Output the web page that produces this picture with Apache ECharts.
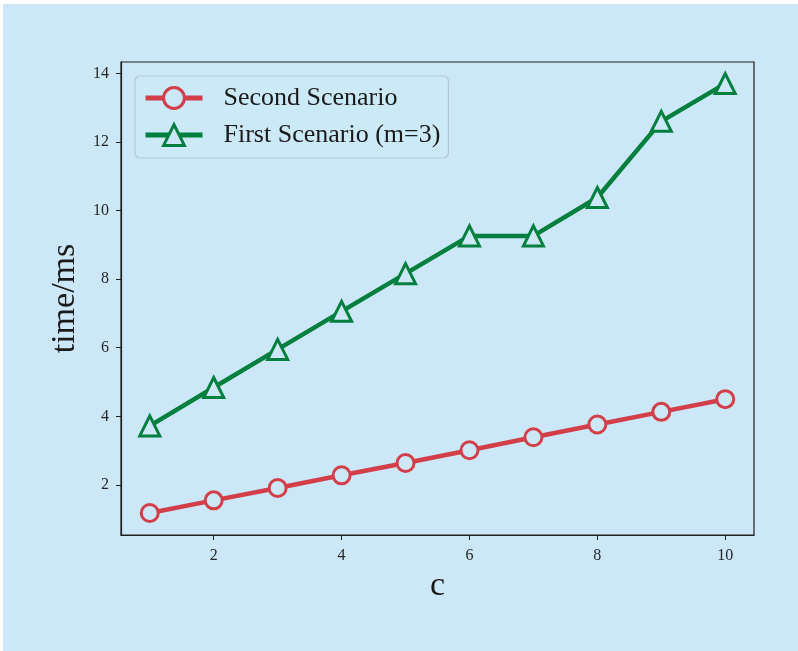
<!DOCTYPE html>
<html>
<head>
<meta charset="utf-8">
<script src="https://cdn.jsdelivr.net/npm/echarts@6/dist/echarts.min.js"></script>
<style>
html,body{margin:0;padding:0;background:#ffffff;}
#bg{position:absolute;left:3px;top:4px;width:795px;height:647px;background:#cce8f8;}
#c{position:absolute;left:0;top:0;width:798px;height:651px;}
</style>
</head>
<body>
<div id="bg"></div>
<div id="c"></div>
<script>
const cValues = [1, 2, 3, 4, 5, 6, 7, 8, 9, 10];
const secondScenario = [1.18, 1.55, 1.91, 2.28, 2.64, 3.01, 3.39, 3.76, 4.13, 4.50];
const firstScenario = [3.72, 4.84, 5.95, 7.06, 8.16, 9.26, 9.26, 10.38, 12.60, 13.70];
const xTicks = [2, 4, 6, 8, 10];
const yTicks = [2, 4, 6, 8, 10, 12, 14];
const seriesNames = ['Second Scenario', 'First Scenario (m=3)'];

const BG = '#cce8f8';
const RED = '#d33f49';
const GREEN = '#007f3f';
const FONT = '"Liberation Serif", "Times New Roman", serif';

const chart = echarts.init(document.getElementById('c'), null, {renderer: 'canvas'});
chart.setOption({
  animation: false,
  backgroundColor: 'transparent',
  textStyle: {fontFamily: FONT},
  grid: {
    left: 121, top: 62, right: 44, bottom: 116,
    show: true, borderColor: '#1f1f1f', borderWidth: 1.2, backgroundColor: 'transparent'
  },
  legend: {
    orient: 'vertical',
    left: 135, top: 76,
    padding: [9, 8, 10, 8],
    itemWidth: 57, itemHeight: 26, itemGap: 11,
    backgroundColor: 'rgba(204,232,248,0.8)',
    borderColor: '#b3c6d2', borderWidth: 1.2, borderRadius: 5,
    lineStyle: {width: 5},
    itemStyle: {borderWidth: 3},
    textStyle: {fontFamily: FONT, fontSize: 26, color: '#1a1a1a', lineHeight: 26, padding: [0, 0, 0, 16]},
    data: seriesNames
  },
  xAxis: {
    type: 'value', min: 0.55, max: 10.45,
    name: 'c', nameLocation: 'middle', nameGap: 29,
    nameTextStyle: {fontFamily: FONT, fontSize: 34, color: '#1a1a1a'},
    axisLine: {show: true, lineStyle: {color: '#1f1f1f', width: 1.2}},
    axisTick: {show: true, length: 5, customValues: xTicks, lineStyle: {color: '#1f1f1f'}},
    axisLabel: {customValues: xTicks, margin: 13, fontFamily: FONT, fontSize: 16, color: '#262626'},
    splitLine: {show: false}
  },
  yAxis: {
    type: 'value', min: 0.54, max: 14.33,
    name: 'time/ms', nameLocation: 'middle', nameGap: 38,
    nameTextStyle: {fontFamily: FONT, fontSize: 34, color: '#1a1a1a'},
    axisLine: {show: true, lineStyle: {color: '#1f1f1f', width: 1.2}},
    axisTick: {show: true, length: 5, customValues: yTicks, lineStyle: {color: '#1f1f1f'}},
    axisLabel: {customValues: yTicks, margin: 12, fontFamily: FONT, fontSize: 16, color: '#262626'},
    splitLine: {show: false}
  },
  series: [
    {
      name: seriesNames[0], type: 'line',
      data: cValues.map((x, i) => [x, secondScenario[i]]),
      symbol: 'circle', symbolSize: 17, showAllSymbol: true,
      lineStyle: {color: RED, width: 4.5},
      itemStyle: {color: BG, borderColor: RED, borderWidth: 3}
    },
    {
      name: seriesNames[1], type: 'line',
      data: cValues.map((x, i) => [x, firstScenario[i]]),
      symbol: 'triangle', symbolSize: 20, showAllSymbol: true,
      lineStyle: {color: GREEN, width: 4.5},
      itemStyle: {color: BG, borderColor: GREEN, borderWidth: 3}
    }
  ]
});
</script>
</body>
</html>
